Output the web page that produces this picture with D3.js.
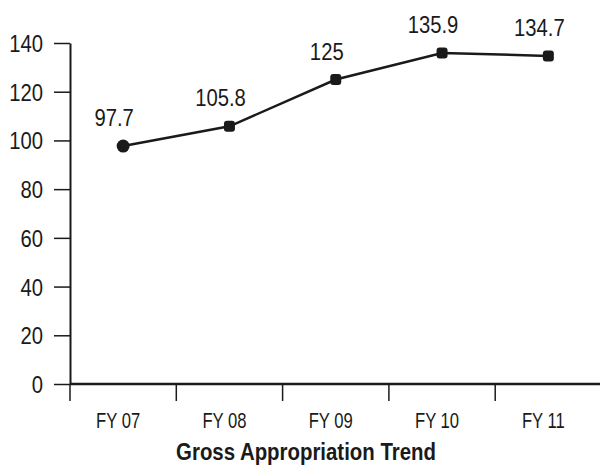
<!DOCTYPE html>
<html>
<head>
<meta charset="utf-8">
<script src="https://cdn.jsdelivr.net/npm/d3@7"></script>
<style>
  html, body { margin: 0; padding: 0; background: #fff; }
  svg text { font-family: "Liberation Sans", Arial, "DejaVu Sans Condensed", sans-serif; fill: #1a1a1a; }
</style>
</head>
<body>
<svg id="chart" width="600" height="467"></svg>
<script>
// Fiscal years and gross appropriation totals
const years = ["FY 07", "FY 08", "FY 09", "FY 10", "FY 11"];
const amounts = [97.7, 105.8, 125, 135.9, 134.7];
const valueLabels = ["97.7", "105.8", "125", "135.9", "134.7"];
const yTicks = [0, 20, 40, 60, 80, 100, 120, 140];
const chartTitle = "Gross Appropriation Trend";

const svg = d3.select("#chart");
const ink = "#1a1a1a";

const x = d3.scaleBand().domain(years).range([70, 601.5]).padding(0);
const y = d3.scaleLinear().domain([0, 140]).range([384, 43]);

// Narrow text: regular face squeezed horizontally
function narrowText(parent, px, py, str, size, squeeze, anchor, weight) {
  return parent.append("text")
    .attr("transform", `translate(${px},${py}) scale(${squeeze},1)`)
    .attr("text-anchor", anchor || "middle")
    .attr("font-size", size)
    .attr("font-weight", weight || "normal")
    .text(str);
}

// Y axis
const yAxis = svg.append("g")
  .attr("transform", "translate(70,0)")
  .call(d3.axisLeft(y).tickValues(yTicks).tickSize(16).tickSizeOuter(0));
yAxis.select(".domain").attr("stroke", ink).attr("stroke-width", 2);
yAxis.selectAll(".tick line").attr("stroke", ink).attr("stroke-width", 1.5);
yAxis.selectAll(".tick text").remove();
yTicks.forEach(v => narrowText(svg, 43, y(v) + 9, String(v), 23, 0.88, "end"));

// X axis: ticks sit on category boundaries
const xAxisG = svg.append("g").attr("transform", "translate(0,384)");
xAxisG.append("line")
  .attr("x1", x.range()[0]).attr("x2", x.range()[1])
  .attr("stroke", ink).attr("stroke-width", 2.5);
xAxisG.selectAll("line.tick")
  .data(years)
  .join("line")
  .attr("class", "tick")
  .attr("x1", d => x(d)).attr("x2", d => x(d))
  .attr("y1", 0).attr("y2", 17)
  .attr("stroke", ink).attr("stroke-width", 1.5);
years.forEach(d => narrowText(svg, x(d) + x.bandwidth() / 2 - 5, 427.5, d, 22.5, 0.74));

// Trend line
const cx = d => x(d) + x.bandwidth() / 2;
const pts = years.map((d, i) => [cx(d), y(amounts[i])]);
svg.append("path")
  .attr("d", d3.line()(pts))
  .attr("fill", "none")
  .attr("stroke", ink)
  .attr("stroke-width", 2.5);

// Markers: round for the first year, rounded squares after
svg.selectAll("circle.mk")
  .data(pts.slice(0, 1))
  .join("circle")
  .attr("class", "mk")
  .attr("cx", d => d[0]).attr("cy", d => d[1])
  .attr("r", 6.5)
  .attr("fill", ink);
svg.selectAll("rect.mk")
  .data(pts.slice(1))
  .join("rect")
  .attr("class", "mk")
  .attr("x", d => d[0] - 5.5).attr("y", d => d[1] - 5.5)
  .attr("width", 11).attr("height", 11)
  .attr("rx", 3)
  .attr("fill", ink);

// Value labels
pts.forEach((p, i) => narrowText(svg, p[0] - 9, p[1] - 20, valueLabels[i], 23, 0.88));

// Title
narrowText(svg, 306, 460, chartTitle, 24, 0.85, "middle", "bold");
</script>
</body>
</html>
